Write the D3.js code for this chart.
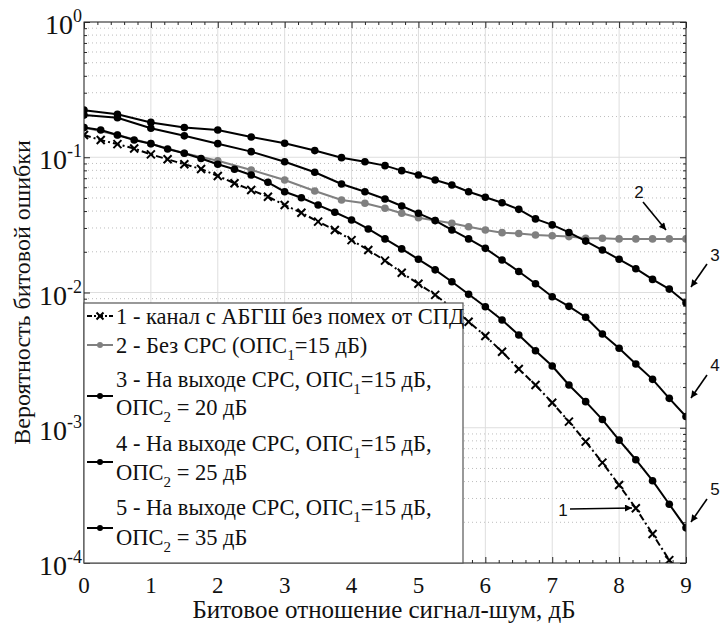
<!DOCTYPE html>
<html>

<head>
  <meta charset="utf-8">
  <script src="https://cdn.jsdelivr.net/npm/d3@7"></script>
</head>

<body>
  <svg id="chart" width="723" height="627"></svg>

  <script>
    // x values: curves 2-4 share a coarse grid, curves 1 and 5 use a 0.25 step
    var snrCoarse = [0, 0.5, 1, 1.5, 2, 2.5, 3, 3.45, 3.85, 4.2, 4.5, 4.75, 5, 5.25, 5.5, 5.75,
      6, 6.25, 6.5, 6.75, 7, 7.25, 7.5, 7.75, 8, 8.25, 8.5, 8.75, 9];
    var snrFine = [0, 0.25, 0.5, 0.75, 1, 1.25, 1.5, 1.75, 2, 2.25, 2.5, 2.75, 3, 3.25, 3.5, 3.75,
      4, 4.25, 4.5, 4.75, 5, 5.25, 5.5, 5.75, 6, 6.25, 6.5, 6.75, 7, 7.25, 7.5, 7.75,
      8, 8.25, 8.5, 8.75, 9];

    var berAwgn = [0.146, 0.134, 0.125, 0.116, 0.105, 0.0966, 0.0887, 0.0819, 0.0727, 0.0642, 0.0573, 0.0511,
      0.0443, 0.0389, 0.0334, 0.0290, 0.0244, 0.0206, 0.0172, 0.0140, 0.0116, 0.0096, 0.0077, 0.00608,
      0.00477, 0.00365, 0.00272, 0.00207, 0.00153, 0.00111, 0.00079, 0.000552, 0.000377, 0.000254,
      0.000164, 0.000105, 0.000065];
    var berNoSrs = [0.166, 0.146, 0.126, 0.107, 0.0942, 0.0805, 0.0679, 0.0563, 0.0483, 0.0457, 0.0420, 0.0385,
      0.0357, 0.0341, 0.0325, 0.0306, 0.0290, 0.0277, 0.0273, 0.0266, 0.0263, 0.0259, 0.0252, 0.0252,
      0.0249, 0.0249, 0.0249, 0.0249, 0.0249];
    var berSrs20 = [0.223, 0.208, 0.181, 0.166, 0.159, 0.141, 0.127, 0.112, 0.0993, 0.0927, 0.0867, 0.0796,
      0.0739, 0.0679, 0.0623, 0.0556, 0.0506, 0.0461, 0.0412, 0.0350, 0.0316, 0.0278, 0.0240, 0.0206,
      0.0176, 0.0150, 0.0125, 0.0106, 0.0084];
    var berSrs25 = [0.205, 0.196, 0.164, 0.144, 0.126, 0.110, 0.0927, 0.0774, 0.0634, 0.0556, 0.0491, 0.0436,
      0.0385, 0.0340, 0.0290, 0.0249, 0.0212, 0.0174, 0.0143, 0.0116, 0.0093, 0.0079, 0.00656, 0.00493,
      0.00387, 0.00296, 0.00228, 0.00165, 0.00121];
    var berSrs35 = [0.166, 0.159, 0.146, 0.134, 0.126, 0.115, 0.107, 0.098, 0.0887, 0.0815, 0.0739, 0.0653,
      0.0556, 0.0502, 0.0443, 0.0392, 0.0344, 0.0295, 0.0249, 0.0210, 0.0176, 0.0147, 0.0120, 0.0097,
      0.00785, 0.00626, 0.00485, 0.00371, 0.00286, 0.00207, 0.00156, 0.00115, 0.00081, 0.00058,
      0.000406, 0.000272, 0.000182];

    var xTicks = [0, 1, 2, 3, 4, 5, 6, 7, 8, 9];
    var yTicks = [1e-4, 1e-3, 1e-2, 1e-1, 1];
    var yTickExp = ['-4', '-3', '-2', '-1', '0'];
    var xLabel = 'Битовое отношение сигнал-шум, дБ';
    var yLabel = 'Вероятность битовой ошибки';

    var serifFont = 'Liberation Serif';
    var sansFont = 'Liberation Sans';

    d3.select('body').style('margin', '0px');

    var svg = d3.select('#chart').style('display', 'block'),
      margin = { top: 22, right: 37, bottom: 64, left: 84 },
      width = +svg.attr('width') - margin.left - margin.right,
      height = +svg.attr('height') - margin.top - margin.bottom,
      g = svg.append('g').attr('transform', 'translate(' + margin.left + ',' + margin.top + ')');

    var x = d3.scaleLinear().domain([0, 9]).range([0, width]);
    var y = d3.scaleLog().domain([1e-4, 1]).range([height, 0]);

    var xMinor = d3.range(0, 9.001, 0.2).filter(v => Math.abs(v - Math.round(v)) > 1e-6);
    var yMinor = [];
    [1e-4, 1e-3, 1e-2, 1e-1].forEach(d => { for (var k = 2; k <= 9; k++) yMinor.push(d * k); });

    // grid
    g.append('g').selectAll('line').data(yMinor).join('line')
      .attr('x1', 0).attr('x2', width).attr('y1', d => y(d)).attr('y2', d => y(d))
      .attr('stroke', '#bdbdbd').attr('stroke-width', 1).attr('stroke-dasharray', '1,3');
    g.append('g').selectAll('line').data(xTicks).join('line')
      .attr('x1', d => x(d)).attr('x2', d => x(d)).attr('y1', 0).attr('y2', height)
      .attr('stroke', '#dedede').attr('stroke-width', 1);
    g.append('g').selectAll('line').data(yTicks).join('line')
      .attr('x1', 0).attr('x2', width).attr('y1', d => y(d)).attr('y2', d => y(d))
      .attr('stroke', '#dedede').attr('stroke-width', 1);

    // axes with inward ticks
    function styleAxis(sel) {
      sel.select('.domain').remove();
      sel.selectAll('line').attr('stroke', '#262626');
    }
    g.append('g').attr('transform', 'translate(0,' + height + ')')
      .call(d3.axisBottom(x).tickValues(xTicks).tickSize(-6).tickFormat('')).call(styleAxis);
    g.append('g').attr('transform', 'translate(0,' + height + ')')
      .call(d3.axisBottom(x).tickValues(xMinor).tickSize(-3).tickFormat('')).call(styleAxis);
    g.append('g')
      .call(d3.axisTop(x).tickValues(xTicks).tickSize(-6).tickFormat('')).call(styleAxis);
    g.append('g')
      .call(d3.axisTop(x).tickValues(xMinor).tickSize(-3).tickFormat('')).call(styleAxis);
    g.append('g')
      .call(d3.axisLeft(y).tickValues(yTicks).tickSize(-6).tickFormat('')).call(styleAxis);
    g.append('g')
      .call(d3.axisLeft(y).tickValues(yMinor).tickSize(-3).tickFormat('')).call(styleAxis);
    g.append('g').attr('transform', 'translate(' + width + ',0)')
      .call(d3.axisRight(y).tickValues(yTicks).tickSize(-6).tickFormat('')).call(styleAxis);
    g.append('g').attr('transform', 'translate(' + width + ',0)')
      .call(d3.axisRight(y).tickValues(yMinor).tickSize(-3).tickFormat('')).call(styleAxis);

    // tick labels
    g.append('g').selectAll('text').data(xTicks).join('text')
      .attr('x', d => x(d)).attr('y', height + 30)
      .attr('text-anchor', 'middle').attr('font-size', 23)
      .attr('font-family', serifFont).attr('fill', '#111')
      .text(d => d);
    var yl = g.append('g').selectAll('text').data(yTicks).join('text')
      .attr('x', -2).attr('y', d => y(d) + 12)
      .attr('text-anchor', 'end').attr('font-size', 28)
      .attr('font-family', serifFont).attr('fill', '#111');
    yl.append('tspan').text('10');
    yl.append('tspan').attr('font-size', 18).attr('dy', -12).text((d, i) => yTickExp[i]);

    // axis titles
    svg.append('text')
      .attr('x', margin.left + width / 2 - 1).attr('y', 618)
      .attr('text-anchor', 'middle').attr('font-size', 25)
      .attr('font-family', serifFont).attr('fill', '#111')
      .text(xLabel);
    svg.append('text')
      .attr('transform', 'translate(30,' + (margin.top + height / 2) + ') rotate(-90)')
      .attr('text-anchor', 'middle').attr('font-size', 24)
      .attr('font-family', serifFont).attr('fill', '#111')
      .text(yLabel);

    // series
    var plot = g.append('g');
    svg.append('defs').append('clipPath').attr('id', 'clip')
      .append('rect').attr('width', width).attr('height', height);
    plot.attr('clip-path', 'url(#clip)');

    var line = d3.line().x(d => x(d[0])).y(d => y(d[1]));
    var series = [
      { xs: snrFine, ys: berAwgn, color: '#000', marker: 'x', dash: '7,3,2,3' },
      { xs: snrCoarse, ys: berNoSrs, color: '#808080', marker: 'o', dash: null },
      { xs: snrCoarse, ys: berSrs20, color: '#000', marker: 'o', dash: null },
      { xs: snrCoarse, ys: berSrs25, color: '#000', marker: 'o', dash: null },
      { xs: snrFine, ys: berSrs35, color: '#000', marker: 'o', dash: null }
    ];
    var drawOrder = [1, 0, 4, 3, 2];
    drawOrder.forEach(i => {
      var s = series[i];
      var pts = s.xs.map((v, k) => [v, s.ys[k]]);
      plot.append('path').datum(pts)
        .attr('fill', 'none').attr('stroke', s.color).attr('stroke-width', 2)
        .attr('stroke-dasharray', s.dash).attr('d', line);
      if (s.marker === 'o') {
        plot.append('g').selectAll('circle').data(pts).join('circle')
          .attr('cx', d => x(d[0])).attr('cy', d => y(d[1])).attr('r', 3.8)
          .attr('fill', s.color);
      } else {
        plot.append('g').selectAll('path').data(pts).join('path')
          .attr('transform', d => 'translate(' + x(d[0]) + ',' + y(d[1]) + ')')
          .attr('d', 'M-4,-4L4,4M-4,4L4,-4')
          .attr('stroke', s.color).attr('stroke-width', 2).attr('fill', 'none');
      }
    });

    // plot box
    g.append('rect').attr('width', width).attr('height', height)
      .attr('fill', 'none').attr('stroke', '#262626').attr('stroke-width', 1);

    // legend
    var legendRows = [
      { s: 0, lines: [['1 - канал с АБГШ без помех от СПД']], sampleY: 294, textY: [302] },
      { s: 1, lines: [['2 - Без СРС (ОПС', '1', '=15 дБ)']], sampleY: 323, textY: [331] },
      { s: 2, lines: [['3 - На выходе СРС, ОПС', '1', '=15 дБ,'], ['ОПС', '2', ' = 20 дБ']], sampleY: 374, textY: [365, 393] },
      { s: 3, lines: [['4 - На выходе СРС, ОПС', '1', '=15 дБ,'], ['ОПС', '2', ' = 25 дБ']], sampleY: 440, textY: [429, 458] },
      { s: 4, lines: [['5 - На выходе СРС, ОПС', '1', '=15 дБ,'], ['ОПС', '2', ' = 35 дБ']], sampleY: 506, textY: [493, 523] }
    ];
    var lg = g.append('g');
    lg.append('rect').attr('x', 0).attr('y', 281).attr('width', 379).attr('height', height - 281)
      .attr('fill', '#fff').attr('stroke', '#555').attr('stroke-width', 1.2);
    legendRows.forEach(r => {
      var s = series[r.s];
      lg.append('line').attr('x1', 3).attr('x2', 29).attr('y1', r.sampleY).attr('y2', r.sampleY)
        .attr('stroke', s.color).attr('stroke-width', 2).attr('stroke-dasharray', s.dash ? '5,2,2,2' : null);
      if (s.marker === 'o') {
        lg.append('circle').attr('cx', 16).attr('cy', r.sampleY).attr('r', 3).attr('fill', s.color);
      } else {
        lg.append('path').attr('transform', 'translate(16,' + r.sampleY + ')')
          .attr('d', 'M-3.5,-3.5L3.5,3.5M-3.5,3.5L3.5,-3.5').attr('stroke', s.color).attr('stroke-width', 2);
      }
      r.lines.forEach((parts, li) => {
        var t = lg.append('text').attr('x', 32).attr('y', r.textY[li]).attr('font-size', 22.5)
          .attr('font-family', serifFont).attr('fill', '#111');
        t.append('tspan').text(parts[0]);
        if (parts.length > 1) {
          t.append('tspan').attr('font-size', 15).attr('dy', 7).text(parts[1]);
          t.append('tspan').attr('dy', -7).text(parts[2]);
        }
      });
    });

    // curve annotations
    var defs = svg.select('defs');
    defs.append('marker').attr('id', 'arrow').attr('viewBox', '0 0 10 10')
      .attr('refX', 10).attr('refY', 5).attr('markerWidth', 9).attr('markerHeight', 7)
      .attr('markerUnits', 'userSpaceOnUse').attr('orient', 'auto')
      .append('path').attr('d', 'M0,0L10,5L0,10Z').attr('fill', '#000');
    var notes = [
      { label: '1', tx: 563, ty: 516, x1: 570, y1: 509, x2: 632, y2: 508 },
      { label: '2', tx: 639, ty: 198, x1: 643, y1: 202, x2: 666, y2: 230 },
      { label: '3', tx: 715, ty: 261, x1: 707, y1: 264, x2: 691, y2: 287 },
      { label: '4', tx: 715, ty: 371, x1: 707, y1: 375, x2: 691, y2: 398 },
      { label: '5', tx: 715, ty: 495, x1: 707, y1: 499, x2: 691, y2: 522 }
    ];
    svg.append('g').selectAll('line').data(notes).join('line')
      .attr('x1', d => d.x1).attr('y1', d => d.y1).attr('x2', d => d.x2).attr('y2', d => d.y2)
      .attr('stroke', '#000').attr('stroke-width', 1.6).attr('marker-end', 'url(#arrow)');
    svg.append('g').selectAll('text').data(notes).join('text')
      .attr('x', d => d.tx).attr('y', d => d.ty)
      .attr('text-anchor', 'middle').attr('font-size', 17)
      .attr('font-family', sansFont).attr('fill', '#111')
      .text(d => d.label);
  </script>
</body>

</html>
